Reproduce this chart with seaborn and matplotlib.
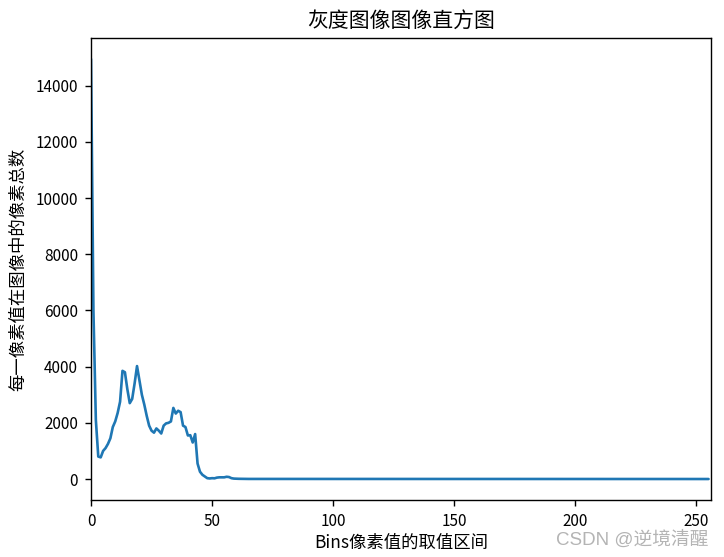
import numpy as np
import matplotlib
matplotlib.use("Agg")
import matplotlib.pyplot as plt
import seaborn as sns

# histogram values (256 bins, grayscale)
head_counts = [14950, 6000, 2100, 800, 770, 1000, 1100, 1250, 1450, 1850,
               2050, 2350, 2750, 3850, 3800, 3200, 2700, 2850, 3400, 4020,
               3500, 3000, 2650, 2250, 1900, 1720, 1650, 1800, 1720, 1620,
               1900, 1980, 2000, 2050, 2530, 2330, 2430, 2380, 1900, 1850,
               1550, 1560, 1300, 1600, 550, 260, 150, 90, 30, 20,
               30, 25, 50, 60, 60, 60, 80, 70, 30, 15,
               10, 8, 6, 5, 4, 3, 3, 2, 2, 1]
tail_counts = [0] * (256 - len(head_counts))
counts = head_counts + tail_counts
bins = np.arange(len(counts))

title = "灰度图像图像直方图"
x_label = "Bins像素值的取值区间"
y_label = "每一像素值在图像中的像素总数"
watermark = "CSDN @逆境清醒"

sns.set_theme(style="ticks", rc={
    "axes.linewidth": 1.0,
    "axes.edgecolor": "black",
    "axes.labelcolor": "black",
    "text.color": "black",
    "xtick.color": "black",
    "ytick.color": "black",
    "xtick.major.width": 1.0,
    "ytick.major.width": 1.0,
    "xtick.major.size": 4.4,
    "ytick.major.size": 4.4,
})
plt.rcParams['font.family'] = ['Noto Sans CJK SC', 'DejaVu Sans']
plt.rcParams['axes.unicode_minus'] = False

fig = plt.figure(figsize=(7.24, 5.57), dpi=100)
ax = fig.add_axes([0.1257, 0.1023, 0.8563, 0.8295])

sns.lineplot(x=bins, y=counts, ax=ax, color="#1f77b4", linewidth=1.9)

ax.set_xlim(0, 256)
ax.set_title(title, fontsize=15, pad=8)
ax.set_xlabel(x_label, fontsize=12.5, labelpad=3)
ax.set_ylabel(y_label, fontsize=12.5, labelpad=6)
ax.tick_params(labelsize=11, pad=5)
for side in ["top", "right", "left", "bottom"]:
    ax.spines[side].set_visible(True)

fig.text(0.978, 0.015, watermark, ha="right", va="bottom",
         fontsize=13.5, color="#b4b4b4",
         family=['Liberation Sans', 'Noto Sans CJK SC'])

fig.savefig("out.png", dpi=100)
